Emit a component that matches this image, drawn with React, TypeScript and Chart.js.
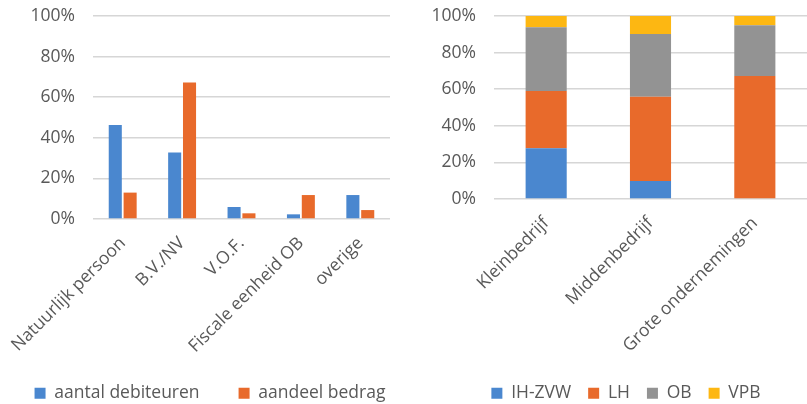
import React, { useEffect, useRef } from "react";
import { Chart, registerables } from "chart.js";

Chart.register(...registerables);

const leftCategories = ["Natuurlijk persoon", "B.V./NV", "V.O.F.", "Fiscale eenheid OB", "overige"];
const aantalDebiteuren = [0.463, 0.327, 0.059, 0.023, 0.118];
const aandeelBedrag = [0.13, 0.673, 0.028, 0.118, 0.044];

const rightCategories = ["Kleinbedrijf", "Middenbedrijf", "Grote ondernemingen"];
const ihZvw = [0.277, 0.098, 0];
const lh = [0.313, 0.461, 0.672];
const ob = [0.348, 0.343, 0.277];
const vpb = [0.062, 0.098, 0.051];

const BLUE = "#4a87cf";
const ORANGE = "#e86a2b";
const GREY = "#939393";
const YELLOW = "#fdb712";
const TEXT = "#595959";
const GRID = "#d6d6d6";
const FONT = "'Open Sans', sans-serif";
const FS = 17.5;

function pct(v: any) {
  return Math.round(Number(v) * 100) + "%";
}

function legendTweak(center: number) {
  return {
    id: "legendTweak",
    afterInit(chart: any) {
      const lg = chart.legend;
      if (!lg) return;
      const orig = lg._fitRows;
      lg._fitRows = function (...args: any[]) {
        const mw = this.maxWidth;
        this.maxWidth = 4000;
        const r = orig.apply(this, args);
        this.maxWidth = mw;
        return r;
      };
    },
    afterLayout(chart: any) {
      const lg = chart.legend;
      if (!lg) return;
      lg.left = center - 2000;
      lg.right = center + 2000;
    },
  };
}

function baseOptions(cfg: {
  yWidth: number;
  xHeight: number;
  padRight: number;
  legendPad: number;
  stacked: boolean;
}): any {
  return {
    responsive: false,
    animation: false,
    layout: { padding: { top: 16, left: 0, right: cfg.padRight, bottom: -8 } },
    plugins: {
      tooltip: { enabled: false },
      legend: {
        position: "bottom",
        labels: {
          boxWidth: 11,
          boxHeight: 11,
          padding: cfg.legendPad,
          color: TEXT,
          font: { family: FONT, size: FS },
        },
      },
    },
    scales: {
      x: {
        stacked: cfg.stacked,
        grid: { display: false },
        border: { display: false },
        ticks: {
          color: TEXT,
          font: { family: FONT, size: FS },
          minRotation: 45,
          maxRotation: 45,
          padding: 6,
          autoSkip: false,
        },
        afterFit: (axis: any) => {
          axis.height = cfg.xHeight;
          axis.paddingLeft = 0;
          axis.paddingRight = 0;
          axis._computeLabelArea = () => undefined;
        },
      },
      y: {
        stacked: cfg.stacked,
        min: 0,
        max: 1,
        ticks: {
          stepSize: 0.2,
          color: TEXT,
          font: { family: FONT, size: FS },
          padding: 18,
          callback: (v: any) => pct(v),
        },
        grid: { color: GRID, lineWidth: 1.5, drawTicks: false },
        border: { display: false },
        afterFit: (axis: any) => {
          axis.width = cfg.yWidth;
          axis.paddingTop = 0;
          axis.paddingBottom = 0;
        },
      },
    },
  };
}

function LeftChart() {
  const ref = useRef<HTMLCanvasElement | null>(null);
  useEffect(() => {
    if (!ref.current) return;
    const chart = new Chart(ref.current, {
      type: "bar",
      data: {
        labels: leftCategories,
        datasets: [
          {
            label: "aantal debiteuren",
            data: aantalDebiteuren,
            backgroundColor: BLUE,
            categoryPercentage: 0.5,
            barPercentage: 0.88,
          },
          {
            label: "aandeel bedrag",
            data: aandeelBedrag,
            backgroundColor: ORANGE,
            categoryPercentage: 0.5,
            barPercentage: 0.88,
          },
        ],
      },
      options: baseOptions({ yWidth: 93, xHeight: 126.5, padRight: 10, legendPad: 39, stacked: false }),
      plugins: [legendTweak(210)],
    });
    return () => chart.destroy();
  }, []);
  return <canvas ref={ref} width={400} height={404} style={{ display: "block" }} />;
}

function RightChart() {
  const ref = useRef<HTMLCanvasElement | null>(null);
  useEffect(() => {
    if (!ref.current) return;
    const mk = (label: string, data: number[], color: string) => ({
      label,
      data,
      backgroundColor: color,
      categoryPercentage: 1,
      barPercentage: 0.394,
    });
    const chart = new Chart(ref.current, {
      type: "bar",
      data: {
        labels: rightCategories,
        datasets: [
          mk("IH-ZVW", ihZvw, BLUE),
          mk("LH", lh, ORANGE),
          mk("OB", ob, GREY),
          mk("VPB", vpb, YELLOW),
        ],
      },
      options: baseOptions({ yWidth: 94, xHeight: 168.5, padRight: 0, legendPad: 17, stacked: true }),
      plugins: [legendTweak(226)],
    });
    return () => chart.destroy();
  }, []);
  return <canvas ref={ref} width={407} height={404} style={{ display: "block" }} />;
}

export default function App() {
  useEffect(() => {
    document.body.style.margin = "0";
    document.body.style.overflow = "hidden";
  }, []);
  return (
    <div style={{ position: "relative", width: 807, height: 404, background: "#fff", overflow: "hidden" }}>
      <div style={{ position: "absolute", left: 0, top: 0 }}>
        <LeftChart />
      </div>
      <div style={{ position: "absolute", left: 400, top: 0 }}>
        <RightChart />
      </div>
    </div>
  );
}
